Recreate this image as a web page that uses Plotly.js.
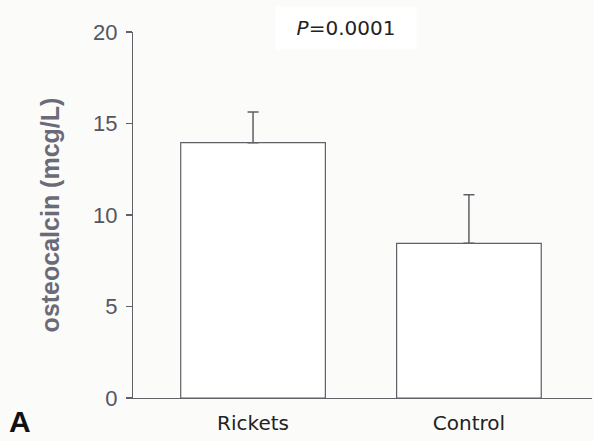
<!DOCTYPE html>
<html>
<head>
<meta charset="utf-8">
<script src="https://cdn.plot.ly/plotly-3.0.1.min.js"></script>
<style>html,body{margin:0;padding:0;background:#fbfbf9;}</style>
</head>
<body>
<div id="chart" style="width:594px;height:441px;"></div>
<script>
const categories = ["Rickets", "Control"];
const means = [13.95, 8.45];
const errorsUp = [1.68, 2.66];
const errorsDown = [0, 0];
const yTicks = [0, 5, 10, 15, 20];
const pText = "<i>P</i>=0.0001";
const panelLabel = "A";

const trace = {
  type: "bar",
  x: [0, 1],
  y: means,
  width: 0.67,
  marker: {color: "#ffffff", line: {color: "#606066", width: 1.2}},
  error_y: {
    type: "data", symmetric: false, array: errorsUp, arrayminus: errorsDown,
    color: "#606066", thickness: 1.5, width: 5.5
  },
  hoverinfo: "skip"
};

const layout = {
  width: 594, height: 441,
  margin: {l: 133, r: 2, t: 32, b: 43},
  paper_bgcolor: "#fbfbf9",
  plot_bgcolor: "rgba(0,0,0,0)",
  showlegend: false,
  xaxis: {
    range: [-0.556, 1.57],
    tickmode: "array", tickvals: [0, 1], ticktext: categories,
    showgrid: false, zeroline: false,
    showline: true, linecolor: "#606066", linewidth: 1.2,
    ticks: "", ticklabelstandoff: 7,
    tickfont: {family: "DejaVu Sans, Verdana, sans-serif", size: 20, color: "#222"}
  },
  yaxis: {
    range: [0, 20],
    tickmode: "array", tickvals: yTicks,
    showgrid: false, zeroline: false,
    showline: true, linecolor: "#606066", linewidth: 1.2,
    ticks: "outside", ticklen: 6, tickwidth: 1.2, tickcolor: "#606066",
    ticklabelstandoff: 4,
    tickfont: {family: "Liberation Sans, Arial, sans-serif", size: 22, color: "#555560"},
    title: {text: "osteocalcin (mcg/L)", standoff: 26,
      font: {family: "Liberation Sans, Arial, sans-serif", size: 25, color: "#6a6a78", weight: "bold"}}
  },
  annotations: [
    {text: pText, xref: "paper", yref: "paper", x: 0.464, y: 1.0096, xanchor: "center", yanchor: "middle",
     showarrow: false, bgcolor: "#ffffff", width: 140, height: 42, borderpad: 0,
     font: {family: "DejaVu Sans, Verdana, sans-serif", size: 20, color: "#222"}},
    {text: "<b>" + panelLabel + "</b>", xref: "paper", yref: "paper", x: -0.246, y: -0.063,
     xanchor: "center", yanchor: "middle", showarrow: false,
     font: {family: "Liberation Sans, Arial, sans-serif", size: 30, color: "#111"}}
  ]
};

Plotly.newPlot("chart", [trace], layout, {displayModeBar: false, staticPlot: true});
</script>
</body>
</html>
